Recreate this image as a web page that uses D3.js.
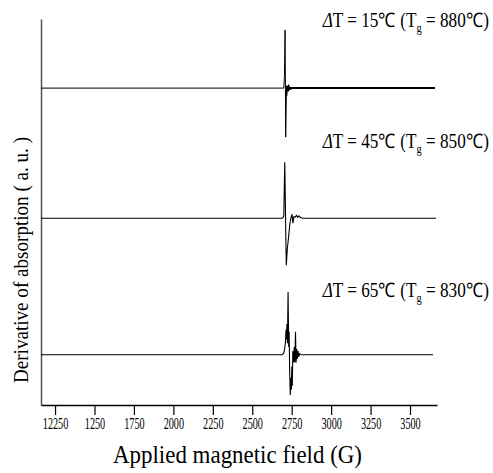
<!DOCTYPE html>
<html>
<head>
<meta charset="utf-8">
<script src="https://cdn.jsdelivr.net/npm/d3@7"></script>
</head>
<body style="margin:0; background:#fff">
<svg id="chart" width="493" height="473"></svg>
<script>

// tick values and the labels printed under them (as in the original figure)
var tickFields = [1250, 1500, 1750, 2000, 2250, 2500, 2750, 3000, 3250, 3500];
var tickLabels = ['12250', '1250', '1750', '2000', '2250', '2500', '2750', '3000', '3250', '3500'];

// baseline offset of each spectrum (a.u.)
var offsets = [82.1, 48.4, 13.0];

// spectra: applied field (G) and derivative signal (a.u., relative to baseline)
var field1 = [1161, 2700, 2704, 2708, 2712, 2716, 2720, 2726, 2732, 2740, 2750, 3658];
var signal1 = [0, 0, 3, 15.0, -12.7, -2, 0.6, -0.8, 0.4, -0.2, 0, 0];

var field2 = [1161, 2690, 2700, 2706, 2710, 2713, 2716, 2722, 2730, 2738, 2745, 2752, 2758, 2764,
              2772, 2780, 2788, 2796, 2805, 2820, 3665];
var signal2 = [0, 0, 0.5, 14.5, 4, -6, -12.2, -8, -5, -1.5, 0, 1, -1.3, 0.4,
               0.3, 0.7, 0.2, 0.6, 0.2, 0, 0];

var field3 = [1161, 2690, 2700, 2705, 2710, 2714, 2717, 2720, 2723, 2727, 2731, 2734, 2737, 2741,
              2745, 2748, 2751, 2754, 2757, 2762, 2766, 2770, 2774, 2778, 2782, 2786, 2790, 2795,
              2800, 2810, 3646];
var signal3 = [0, 0, 0.5, 1.5, 3, 6.5, 4, 8, 3, 16.3, 2, 6, -4, -10.4,
               -6, -9, -3, -8, 1, -2, 2, -2, 6, -2, 1.5, -1, 1, -0.5,
               0.3, 0, 0];

var fields = [field1, field2, field3];
var signals = [signal1, signal2, signal3];

var labels = [
  {dt: '15', tg: '880'},
  {dt: '45', tg: '850'},
  {dt: '65', tg: '830'}
];

var serif = 'Liberation Serif';

var svg = d3.select('#chart');

var x = d3.scaleLinear().domain([1161, 3671]).range([41, 437]);
var y = d3.scaleLinear().domain([0, 100]).range([405, 19]);

// y axis: plain line, no ticks
svg.append('g')
   .attr('transform', 'translate(41,0)')
   .call(d3.axisLeft(y).tickValues([]).tickSizeOuter(0))
   .select('.domain')
   .attr('stroke', '#555')
   .attr('stroke-width', 1.5);

// x axis
var xAxis = svg.append('g')
   .attr('transform', 'translate(0,405)')
   .call(d3.axisBottom(x)
           .tickValues(tickFields)
           .tickFormat((d, i) => tickLabels[i])
           .tickSize(10)
           .tickSizeOuter(0));

xAxis.attr('font-family', serif);
xAxis.select('.domain').attr('stroke', '#000').attr('stroke-width', 1.5);
xAxis.selectAll('.tick line').attr('stroke', '#000').attr('stroke-width', 1.2);
xAxis.selectAll('.tick text')
     .attr('font-family', serif)
     .attr('font-size', 17)
     .attr('fill', '#000')
     .attr('y', 12)
     .attr('transform', 'scale(0.6,1)');

// spectra
var line = d3.line()
             .x(d => x(d.f))
             .y(d => y(d.o + d.s));

for (var i = 0; i < 3; i++)
{
  var pts = fields[i].map((f, j) => ({f: f, s: signals[i][j], o: offsets[i]}));
  if (i == 0)
  {
    // first spectrum: the part above the resonance is drawn heavier
    var cut = 2716;
    svg.append('path')
       .datum(pts.filter(d => d.f <= cut))
       .attr('fill', 'none')
       .attr('stroke', '#000')
       .attr('stroke-width', 1)
       .attr('d', line);
    svg.append('path')
       .datum(pts.filter(d => d.f >= cut))
       .attr('fill', 'none')
       .attr('stroke', '#000')
       .attr('stroke-width', 2)
       .attr('d', line);
  }
  else
  {
    svg.append('path')
       .datum(pts)
       .attr('fill', 'none')
       .attr('stroke', '#000')
       .attr('stroke-width', 1.1)
       .attr('d', line);
  }
}

// series labels, horizontally condensed like the original print
var labelY = [27, 148, 297];
labels.forEach((l, i) => {
  var t = svg.append('text')
             .attr('transform', 'translate(489,' + labelY[i] + ') scale(0.86,1)')
             .attr('text-anchor', 'end')
             .attr('font-family', serif)
             .attr('font-size', 20)
             .attr('fill', '#000');
  t.append('tspan').attr('font-style', 'italic').text('\u0394');
  t.append('tspan').text('T = ' + l.dt + '\u2103 (T');
  t.append('tspan').attr('font-size', 12).attr('dy', 5).text('g');
  t.append('tspan').attr('dy', -5).text(' = ' + l.tg + '\u2103)');
});

// axis titles
svg.append('text')
   .attr('x', 113)
   .attr('y', 463)
   .attr('font-family', serif)
   .attr('font-size', 25)
   .attr('fill', '#000')
   .attr('textLength', 249)
   .attr('lengthAdjust', 'spacingAndGlyphs')
   .text('Applied magnetic field  (G)');

svg.append('text')
   .attr('transform', 'translate(28,383) rotate(-90)')
   .attr('font-family', serif)
   .attr('font-size', 22)
   .attr('fill', '#000')
   .attr('textLength', 246)
   .attr('lengthAdjust', 'spacingAndGlyphs')
   .text('Derivative of absorption ( a. u. )');

</script>
</body>
</html>
